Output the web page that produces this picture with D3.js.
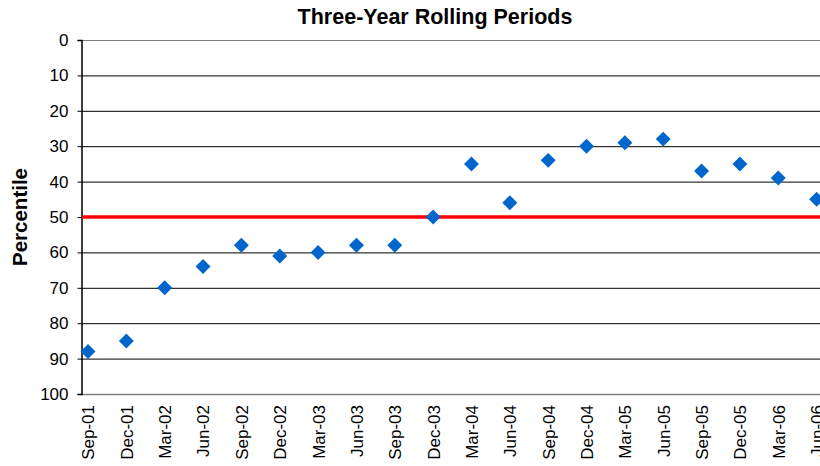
<!DOCTYPE html>
<html><head><meta charset="utf-8">
<script src="https://cdn.jsdelivr.net/npm/d3@7"></script>
<style>body{margin:0;background:#fff;overflow:hidden}svg{display:block;font-family:Arial,"Liberation Sans",sans-serif}</style>
</head><body>
<svg id="c" width="820" height="466"></svg>
<script>
const categories = ["Sep-01","Dec-01","Mar-02","Jun-02","Sep-02","Dec-02","Mar-03","Jun-03","Sep-03","Dec-03","Mar-04","Jun-04","Sep-04","Dec-04","Mar-05","Jun-05","Sep-05","Dec-05","Mar-06","Jun-06"];
const percentile = [88,85,70,64,58,61,60,58,58,50,35,46,34,30,29,28,37,35,39,45];
const yTicks = [0,10,20,30,40,50,60,70,80,90,100];
const benchmark = 50;

(function(){
const svg = d3.select("#c");
const mLeft = 81, mTop = 40, mBottom = 394, mRight = 830;
const FONT = "Arial, 'Liberation Sans', sans-serif";
const x = d3.scalePoint().domain(categories).range([88, 816.6]);
const y = d3.scaleLinear().domain([0,100]).range([mTop, mBottom]);

// gridlines
svg.append("g").selectAll("line").data(yTicks.filter(d=>d>0 && d<100)).join("line")
  .attr("x1", mLeft).attr("x2", mRight).attr("y1", d=>y(d)+0.5).attr("y2", d=>y(d)+0.5)
  .attr("stroke", "#000").attr("stroke-width", 1);
svg.append("line").attr("x1", mLeft).attr("x2", mRight).attr("y1", y(0)+0.5).attr("y2", y(0)+0.5)
  .attr("stroke", "#808080").attr("stroke-width", 1);
svg.append("line").attr("x1", mLeft).attr("x2", mRight).attr("y1", y(100)+0.5).attr("y2", y(100)+0.5)
  .attr("stroke", "#808080").attr("stroke-width", 1.5);

// y axis
const yAxis = svg.append("g").attr("transform", `translate(${mLeft+0.5},0)`)
  .call(d3.axisLeft(y).tickValues(yTicks).tickSize(4).tickPadding(9));
yAxis.select(".domain").attr("stroke", "#000").attr("stroke-width", 1.5);
yAxis.selectAll(".tick line").attr("stroke", "#000");
yAxis.selectAll("text").attr("font-size", 17).attr("fill", "#000").attr("font-family", FONT);

// x labels
const xAxis = svg.append("g").attr("transform", `translate(0,${mBottom})`)
  .call(d3.axisBottom(x).tickSize(0).tickPadding(0));
xAxis.select(".domain").remove();
xAxis.selectAll("text")
  .attr("font-size", 17).attr("fill", "#000").attr("font-family", FONT)
  .attr("transform", "rotate(-90)")
  .attr("text-anchor", "end").attr("x", -11).attr("y", 0).attr("dy", "0.35em");

// benchmark line
svg.append("line").attr("x1", mLeft+1).attr("x2", mRight).attr("y1", y(benchmark)).attr("y2", y(benchmark))
  .attr("stroke", "#FF0000").attr("stroke-width", 3.5);

// points
svg.append("g").selectAll("path").data(percentile).join("path")
  .attr("d", d3.symbol().type(d3.symbolSquare).size(112))
  .attr("transform", (d,i)=>`translate(${x(categories[i])},${y(d)}) rotate(45)`)
  .attr("fill", "#0066CC");

// title
svg.append("text").attr("x", 435).attr("y", 24).attr("text-anchor", "middle").attr("font-family", FONT)
  .attr("font-size", 21.5).attr("font-weight", "bold").text("Three-Year Rolling Periods");
// y label
svg.append("text").attr("transform", "translate(27,217) rotate(-90)").attr("text-anchor", "middle").attr("font-family", FONT)
  .attr("font-size", 20.5).attr("font-weight", "bold").text("Percentile");
})();
</script>
</body></html>
